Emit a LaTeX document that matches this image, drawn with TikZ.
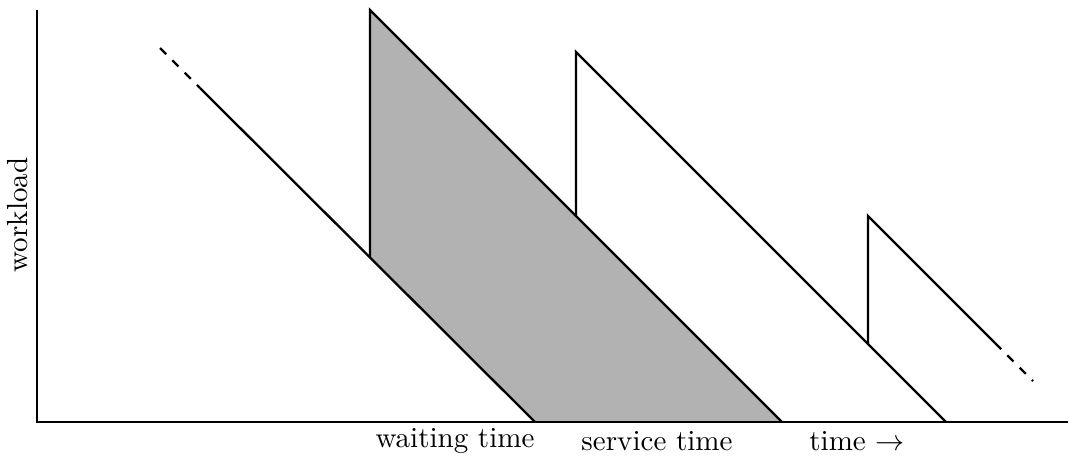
\documentclass[tikz,border=0pt]{standalone}
\usepackage{amsmath,amssymb}
\usepackage{tikz}
\usepackage{xcolor}

\begin{document}
\begin{tikzpicture}[scale=0.484]
\useasboundingbox (-0.925,-0.975) rectangle (25.85,10.55);
% 关键点：到达时刻的跳变
\coordinate (a0) at (3.075,9.35);
\coordinate (a1) at (4.075,8.35);
\coordinate (j1lo) at (8.325,4.125);
\coordinate (j1hi) at (8.325,10.3);
\coordinate (e1) at (12.45,0);
\coordinate (j2lo) at (13.475,5.15);
\coordinate (j2hi) at (13.475,9.25);
\coordinate (e2) at (18.625,0);
\coordinate (j3lo) at (20.775,1.95);
\coordinate (j3hi) at (20.775,5.15);
\coordinate (e3) at (22.725,0);
\coordinate (d0) at (23.95,1.975);
\coordinate (d1) at (24.9,1.025);

% 阴影：等待时间 + 服务时间
\fill[black!30] (j1lo) -- (j1hi) -- (e2) -- (e1) -- cycle;

% 坐标轴
\draw (0,10.3) -- (0,0) -- (25.78,0);

% 工作量曲线
\draw[thick, dashed] (a0) -- (a1);
\draw[thick] (a1) -- (e1);
\draw[thick] (j1lo) -- (j1hi) -- (e2);
\draw[thick] (j2lo) -- (j2hi) -- (e3);
\draw[thick] (j3lo) -- (j3hi) -- (d0);
\draw[thick, dashed] (d0) -- (d1);

% 说明
\node (wait) at (10.45,-0.475) {waiting time};
\node (serv) at (15.5,-0.475) {service time};
\node (time) at (20.5,-0.475) {time $\rightarrow$};
\node[rotate=90] (load) at (-0.475,5.175) {workload};
\end{tikzpicture}
\end{document}
